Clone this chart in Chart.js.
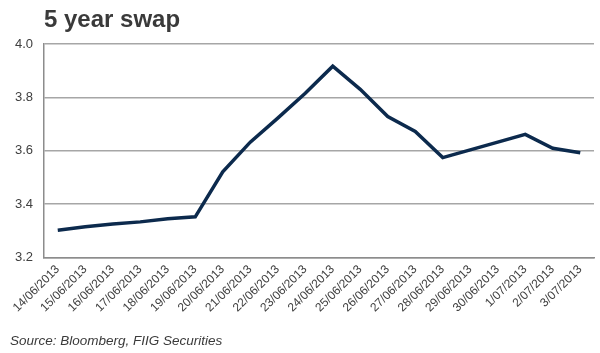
<!DOCTYPE html>
<html>
<head>
<meta charset="utf-8">
<script src="https://cdn.jsdelivr.net/npm/chart.js@4"></script>
<style>
  html, body { margin: 0; padding: 0; background: #fff; }
  #wrap { position: relative; width: 600px; height: 353px; }
  #title { position: absolute; left: 44px; top: 5px; font: bold 24px "Liberation Sans", Arial, sans-serif; color: #3a3a3a; }
  #source { position: absolute; left: 10px; top: 333px; font: italic 13.5px "Liberation Sans", Arial, sans-serif; color: #3a3a3a; }
</style>
</head>
<body>
<div id="wrap">
  <canvas id="chart" width="600" height="353"></canvas>
  <div id="title">5 year swap</div>
  <div id="source">Source: Bloomberg, FIIG Securities</div>
</div>
<script>
const dates = [
  '14/06/2013', '15/06/2013', '16/06/2013', '17/06/2013', '18/06/2013',
  '19/06/2013', '20/06/2013', '21/06/2013', '22/06/2013', '23/06/2013',
  '24/06/2013', '25/06/2013', '26/06/2013', '27/06/2013', '28/06/2013',
  '29/06/2013', '30/06/2013', '1/07/2013', '2/07/2013', '3/07/2013'
];
const swapRate = [
  3.302, 3.315, 3.325, 3.333, 3.345,
  3.352, 3.521, 3.632, 3.722, 3.815,
  3.917, 3.83, 3.728, 3.672, 3.574,
  3.603, 3.632, 3.661, 3.609, 3.592
];
const yTicks = [3.2, 3.4, 3.6, 3.8, 4.0];

const ctx = document.getElementById('chart').getContext('2d');
new Chart(ctx, {
  type: 'line',
  data: {
    labels: dates,
    datasets: [{
      label: '5 year swap',
      data: swapRate,
      borderColor: '#0c2a4d',
      borderWidth: 3.5,
      pointRadius: 0,
      tension: 0,
      fill: false
    }]
  },
  options: {
    responsive: false,
    animation: false,
    layout: { padding: { top: 44, right: 6, bottom: 33, left: 0 } },
    plugins: {
      legend: { display: false },
      tooltip: { enabled: false }
    },
    scales: {
      x: {
        offset: true,
        grid: { display: false, drawTicks: false },
        border: { display: true, color: '#8c8c8c', width: 1.5 },
        ticks: {
          autoSkip: false,
          minRotation: 45,
          maxRotation: 45,
          padding: 5,
          color: '#404040',
          font: { family: '"Liberation Sans", Arial, sans-serif', size: 12 }
        }
      },
      y: {
        min: 3.2,
        max: 4.0,
        afterBuildTicks: scale => { scale.ticks = yTicks.map(v => ({ value: v })); },
        afterFit: scale => { scale.width = 44; },
        grid: { color: '#a6a6a6', lineWidth: 1.5, drawTicks: false },
        border: { display: true, color: '#8c8c8c', width: 1.5 },
        ticks: {
          padding: 11,
          color: '#404040',
          font: { family: '"Liberation Sans", Arial, sans-serif', size: 13 },
          callback: v => Number(v).toFixed(1)
        }
      }
    }
  }
});
</script>
</body>
</html>
